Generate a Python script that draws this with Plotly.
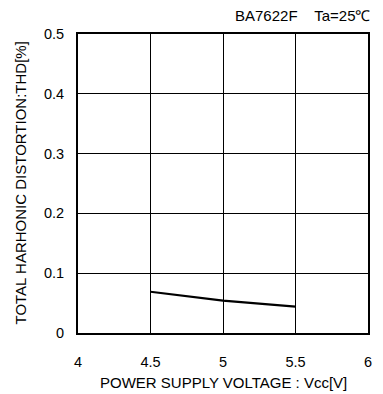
import plotly.graph_objects as go

vcc = [4.5, 5.0, 5.5]
thd = [0.069, 0.054, 0.044]
x_ticks = [4, 4.5, 5, 5.5, 6]
x_tick_labels = ["4", "4.5", "5", "5.5", "6"]
y_ticks = [0, 0.1, 0.2, 0.3, 0.4, 0.5]
y_tick_labels = ["0", "0.1", "0.2", "0.3", "0.4", "0.5"]

font = "Liberation Sans, Arial, sans-serif"
L, R, T, B = 78, 15, 34, 61
W, H = 383, 394
pw, ph = W - L - R, H - T - B

fig = go.Figure()
fig.add_trace(go.Scatter(x=vcc, y=thd, mode="lines",
                         line=dict(color="black", width=2.2), showlegend=False))

fig.update_layout(
    width=W, height=H,
    margin=dict(l=L, r=R, t=T, b=B, autoexpand=False),
    paper_bgcolor="white", plot_bgcolor="white",
    font=dict(family=font, size=14.5, color="black"),
    xaxis=dict(range=[4, 6], tickvals=x_ticks, ticktext=x_tick_labels,
               showgrid=True, gridcolor="black", gridwidth=1,
               showline=True, linecolor="black", linewidth=2, mirror=True,
               ticks="outside", ticklen=15, tickcolor="rgba(0,0,0,0)",
               zeroline=False, automargin=False),
    yaxis=dict(range=[0, 0.5], tickvals=y_ticks, ticktext=y_tick_labels,
               showgrid=True, gridcolor="black", gridwidth=1,
               showline=True, linecolor="black", linewidth=2, mirror=True,
               ticks="outside", ticklen=9, tickcolor="rgba(0,0,0,0)",
               zeroline=False, automargin=False),
    annotations=[
        dict(text="BA7622F\u00a0\u00a0\u00a0\u00a0Ta=25\u2103", x=1 + 4.5 / pw, y=1 + 19 / ph,
             xref="paper", yref="paper", xanchor="right", yanchor="middle",
             showarrow=False, font=dict(size=15, family=font)),
        dict(text="POWER SUPPLY VOLTAGE : Vcc[V]", x=0.5, y=-50 / ph,
             xref="paper", yref="paper", xanchor="center", yanchor="middle",
             showarrow=False, font=dict(size=15, family=font)),
        dict(text="TOTAL HARHONIC DISTORTION:THD[%]", x=-(L - 20) / pw, y=0.5,
             xref="paper", yref="paper", xanchor="center", yanchor="middle",
             textangle=-90, showarrow=False, font=dict(size=15, family=font)),
    ],
)

fig.write_html("out.html", config={"displayModeBar": False},
               post_script="document.body.style.margin='0';")
